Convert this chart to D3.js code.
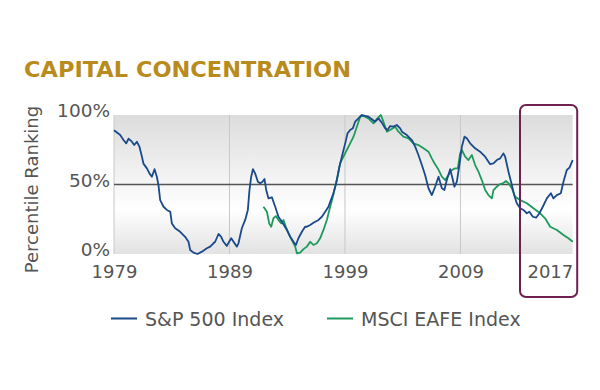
<!DOCTYPE html>
<html>
<head>
<meta charset="utf-8">
<script src="https://cdn.jsdelivr.net/npm/d3@7"></script>
<style>
  html, body { margin: 0; padding: 0; background: #fff; }
  svg { display: block; }
</style>
</head>
<body>
<svg id="chart" width="600" height="390"></svg>
<script>
// ---- Data ----
const spYears = [1979.0,1979.54,1979.82,1980.06,1980.26,1980.55,1980.75,1980.98,1981.21,1981.42,1981.55,1981.85,1982.07,1982.28,1982.51,1982.71,1982.85,1983.0,1983.29,1983.58,1983.87,1984.01,1984.3,1984.73,1985.16,1985.45,1985.6,1985.88,1986.23,1986.61,1987.04,1987.33,1987.61,1987.76,1988.05,1988.28,1988.48,1988.77,1988.97,1989.15,1989.35,1989.64,1989.78,1990.07,1990.36,1990.59,1990.73,1990.88,1991.03,1991.22,1991.46,1991.66,1991.86,1992.03,1992.18,1992.38,1992.67,1992.96,1993.24,1993.54,1993.97,1994.26,1994.54,1994.75,1994.97,1995.27,1995.55,1995.7,1995.99,1996.27,1996.71,1997.0,1997.29,1997.57,1997.78,1998.0,1998.24,1998.52,1998.73,1999.02,1999.22,1999.45,1999.68,1999.88,2000.17,2000.46,2000.75,2001.03,2001.33,2001.61,2001.9,2002.19,2002.48,2002.68,2002.91,2003.2,2003.49,2003.78,2003.93,2004.36,2004.79,2005.08,2005.36,2005.66,2005.94,2006.23,2006.52,2006.81,2007.1,2007.39,2007.61,2007.82,2008.11,2008.31,2008.48,2008.69,2008.97,2009.12,2009.35,2009.55,2009.84,2010.27,2010.7,2011.14,2011.57,2011.86,2012.15,2012.44,2012.72,2012.87,2013.16,2013.45,2013.65,2013.88,2014.17,2014.45,2014.75,2014.97,2015.27,2015.55,2015.84,2016.13,2016.48,2016.83,2017.05,2017.35,2017.69,2017.92,2018.21,2018.44,2018.72];
const spValues = [89,85.6,82,79.6,83,80.8,78.4,80.8,77,70,65,61.6,58,55.6,61,55.6,49.6,38.8,34,31.7,30.4,22,18.5,16,12.4,8.8,2.9,1,0,1.7,4.1,5.3,7.7,8.8,14.4,12.4,8.8,5.8,8.8,11.3,8.8,5.3,7.7,18.5,24.5,31.7,46,55.6,61,58,52,50.9,52,54,46,40,40.8,34,26.8,23.2,17.3,12.4,8.8,6.5,11.3,16,19.6,19.6,20.9,22.5,24.5,26.8,30.4,34,38.8,43.7,50.9,62.8,70,79.6,86.8,89.2,90.4,95.2,97.6,100,99.3,98.8,96.9,95.2,97.6,94.5,90.4,89.2,92,91.6,92.8,90.4,88,85.6,82,77.2,71.2,64,56.8,47.3,42.4,48.4,55.6,47.3,46,53.2,61,54.5,48.4,52,67.6,77.2,84.4,83.2,79.6,76,73.6,70,64.6,65.2,67.6,68.8,72.4,70,59.2,49.6,42.4,36.5,32.9,31.7,29.3,30.4,26.8,26.1,29.3,34,40,43.7,40,42.4,43.7,52,60.4,62.1,67.6];

const eafeYears = [1991.94,1992.24,1992.44,1992.61,1992.81,1993.02,1993.24,1993.48,1993.68,1993.88,1994.11,1994.4,1994.69,1994.84,1995.12,1995.41,1995.7,1995.99,1996.27,1996.57,1996.85,1997.14,1997.43,1997.72,1997.95,1998.15,1998.35,1998.58,1998.87,1999.16,1999.45,1999.74,2000.03,2000.32,2000.6,2001.03,2001.47,2001.81,2002.11,2002.33,2002.63,2002.91,2003.35,2003.63,2004.06,2004.5,2004.93,2005.36,2005.8,2006.23,2006.52,2006.75,2007.04,2007.39,2007.68,2007.96,2008.26,2008.54,2008.77,2008.97,2009.12,2009.41,2009.69,2009.99,2010.27,2010.56,2010.85,2011.14,2011.42,2011.72,2011.86,2012.15,2012.38,2012.67,2012.96,2013.16,2013.45,2013.74,2014.17,2014.75,2015.32,2015.9,2016.33,2016.77,2017.35,2017.92,2018.35,2018.72];
const eafeValues = [34,30.4,22,19.6,25.7,27.3,24.5,22,24.5,19.6,14.9,10,5.3,0.5,1,3.5,5.3,8.8,6.5,7.7,11.3,17.3,24.5,34,41.2,48.4,55.6,65.2,70,74.8,79.6,84.4,91.6,98.8,99.3,97.6,94,97.6,100,95.2,88,89.2,91.6,88,84.4,83.2,79.6,78.4,76,73.6,68.8,65.2,61.6,55.6,53.2,56.8,60.4,61.6,61.6,72.4,74.8,70,67.6,71.2,64,59.2,53.2,46,42.4,40,46,48.4,50.1,50.9,52.5,50.9,47.3,41.2,38.8,36.5,32.9,29.3,25.7,19.6,17.3,13.7,11.3,8.8];

const xTickYears = [1979, 1989, 1999, 2009, 2017];
const gridYears = [1979, 1989, 1999, 2009];
const yTickValues = [0, 50, 100];
const yTickLabels = ["0%", "50%", "100%"];
const seriesNames = ["S&P 500 Index", "MSCI EAFE Index"];
const seriesColors = ["#1a4a8a", "#1f9a5c"];
const highlightRange = [2014.2, 2018.72];

// ---- Layout ----
const svg = d3.select("#chart");
const margin = { left: 114, right: 27.3, top: 115, bottom: 136 };
const W = 600, H = 390;
const x = d3.scaleLinear().domain([1979, 2018.72]).range([margin.left, W - margin.right]);
const y = d3.scaleLinear().domain([0, 100]).range([H - margin.bottom, margin.top]);
const FONT = "'DejaVu Sans', Verdana, sans-serif";

// Title
svg.append("text")
  .attr("x", 24).attr("y", 77)
  .attr("font-family", FONT).attr("font-weight", "bold")
  .attr("font-size", 21).attr("fill", "#b98b1c")
  .attr("textLength", 327).attr("lengthAdjust", "spacingAndGlyphs")
  .text("CAPITAL CONCENTRATION");

// Background gradient
const defs = svg.append("defs");
const grad = defs.append("linearGradient").attr("id", "bg")
  .attr("x1", 0).attr("y1", 0).attr("x2", 0).attr("y2", 1);
grad.append("stop").attr("offset", "0%").attr("stop-color", "#dcdcdc");
grad.append("stop").attr("offset", "68%").attr("stop-color", "#ffffff");
grad.append("stop").attr("offset", "100%").attr("stop-color", "#e2e2e2");

svg.append("rect")
  .attr("x", x(1979)).attr("y", y(100))
  .attr("width", x(2018.72) - x(1979)).attr("height", y(0) - y(100))
  .attr("fill", "url(#bg)");

// Vertical gridlines
svg.append("g").selectAll("line").data(gridYears).join("line")
  .attr("x1", d => x(d)).attr("x2", d => x(d))
  .attr("y1", y(100)).attr("y2", y(0))
  .attr("stroke", "#c8c8c8").attr("stroke-width", 1);

// 50% reference line
svg.append("line")
  .attr("x1", x(1979)).attr("x2", x(2018.72))
  .attr("y1", y(50)).attr("y2", y(50))
  .attr("stroke", "#555").attr("stroke-width", 1.6);

// Lines
const line = d3.line().x(d => x(d[0])).y(d => y(d[1])).curve(d3.curveLinear);
const spData = spYears.map((yr, i) => [yr, spValues[i]]);
const eafeData = eafeYears.map((yr, i) => [yr, eafeValues[i]]);

svg.append("path").datum(eafeData)
  .attr("d", line).attr("fill", "none")
  .attr("stroke", seriesColors[1]).attr("stroke-width", 1.8)
  .attr("stroke-linejoin", "round");
svg.append("path").datum(spData)
  .attr("d", line).attr("fill", "none")
  .attr("stroke", seriesColors[0]).attr("stroke-width", 1.8)
  .attr("stroke-linejoin", "round");

// Y axis labels
const yAxis = d3.axisLeft(y).tickValues(yTickValues)
  .tickFormat((d, i) => yTickLabels[i]).tickSize(0).tickPadding(4);
const yg = svg.append("g").attr("transform", `translate(${margin.left},0)`).call(yAxis);
yg.select(".domain").remove();
yg.selectAll("text").attr("font-family", FONT).attr("font-size", 18.5)
  .attr("fill", "#555").attr("dy", "0.1em");

// X axis labels
const xAxis = d3.axisBottom(x).tickValues(xTickYears).tickFormat(d3.format("d"))
  .tickSize(0).tickPadding(11);
const xg = svg.append("g").attr("transform", `translate(0,${y(0)})`).call(xAxis);
xg.select(".domain").remove();
xg.selectAll("text").attr("font-family", FONT).attr("font-size", 18).attr("fill", "#555");
xg.selectAll(".tick").filter(d => d === 2017).select("text").attr("dx", -3);

// Y title
svg.append("text")
  .attr("transform", `translate(38,${(y(0)+y(100))/2 + 5}) rotate(-90)`)
  .attr("text-anchor", "middle")
  .attr("font-family", FONT).attr("font-size", 18).attr("fill", "#555")
  .text("Percentile Ranking");

// Highlight box
svg.append("rect")
  .attr("x", x(highlightRange[0]) - 0.5).attr("y", 105)
  .attr("width", x(highlightRange[1]) - x(highlightRange[0]) + 5).attr("height", 192)
  .attr("rx", 6).attr("ry", 6)
  .attr("fill", "none").attr("stroke", "#6e2150").attr("stroke-width", 2);

// Legend
const legendX = [111, 327];
const lg = svg.append("g").selectAll("g").data(seriesNames).join("g")
  .attr("transform", (d, i) => `translate(${legendX[i]},318.5)`);
lg.append("line").attr("x1", 0).attr("x2", 26).attr("y1", 0).attr("y2", 0)
  .attr("stroke", (d, i) => seriesColors[i]).attr("stroke-width", 2);
lg.append("text").attr("x", 34).attr("y", 7)
  .attr("font-family", FONT).attr("font-size", 19).attr("fill", "#555")
  .text(d => d);
</script>
</body>
</html>
